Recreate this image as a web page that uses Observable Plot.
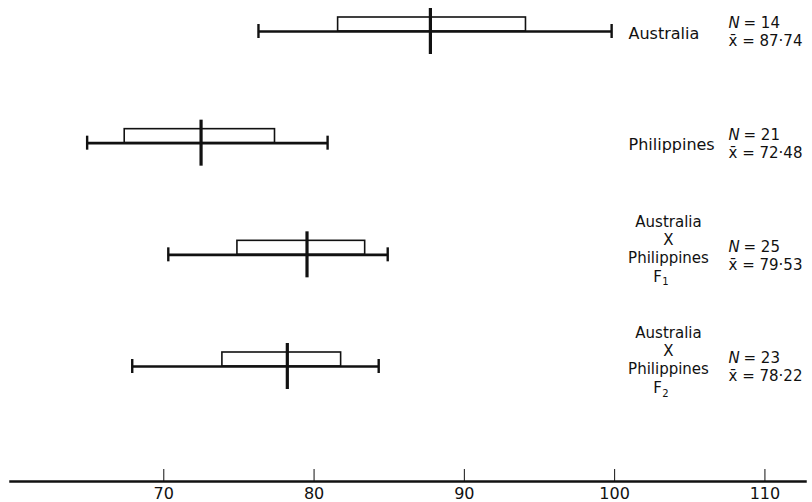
<!DOCTYPE html>
<html>
<head>
<meta charset="utf-8">
<script src="https://cdn.jsdelivr.net/npm/d3@7"></script>
<script src="https://cdn.jsdelivr.net/npm/@observablehq/plot@0.6"></script>
<style>
  html, body { margin: 0; padding: 0; background: #fff; }
  #chart svg { font-family: "DejaVu Sans", sans-serif; }
</style>
</head>
<body>
<div id="chart"></div>
<script>
// Data
const groups   = ["Australia", "Philippines", "Australia X Philippines F1", "Australia X Philippines F2"];
const lows     = [76.3, 64.9, 70.3, 67.9];
const boxLo    = [81.6, 67.4, 74.9, 73.9];
const boxHi    = [94.1, 77.4, 83.4, 81.8];
const highs    = [99.8, 80.9, 84.9, 84.3];
const means    = [87.74, 72.48, 79.53, 78.22];
const ns       = [14, 21, 25, 23];
const meanText = ["87·74", "72·48", "79·53", "78·22"];
const crossLines = ["Australia", "X", "Philippines"];
const xTicks   = [70, 80, 90, 100, 110];

const rows = groups.map((g, i) => ({
  i, group: g, lo: lows[i], q1: boxLo[i], q3: boxHi[i], hi: highs[i],
  mean: means[i], n: ns[i], meanLabel: meanText[i]
}));
const simple = rows.filter(d => d.i < 2);
const crosses = rows.filter(d => d.i >= 2);

const ink = "#111";
const font = 16;
const crossFont = 15;
const statFont = 15;
const lineOffsets = [-33, -15, 3];

const crossMarks = crossLines.map((line, k) =>
  Plot.text(crosses, {y: "i", text: d => line, frameAnchor: "right", textAnchor: "middle", dx: -137, dy: lineOffsets[k], fontSize: crossFont, fill: ink})
);

const chart = Plot.plot({
  width: 812,
  height: 502,
  marginLeft: 10,
  marginRight: 7,
  marginTop: 0,
  marginBottom: 21,
  x: {domain: [59.8, 112.7]},
  y: {domain: [0, 3], range: [31, 366], axis: null},
  marks: [
    Plot.frame({anchor: "bottom", stroke: ink, strokeWidth: 2.5}),
    Plot.axisX(xTicks, {tickSize: -12, tickPadding: 18, fontSize: font, stroke: ink, fill: ink, tickFormat: d => String(d)}),
    // boxes (sit on top of the whisker line)
    Plot.rect(rows, {x1: "q1", x2: "q3", y1: "i", y2: "i", insetTop: -14, insetBottom: 0, fill: "white", stroke: ink, strokeWidth: 1.6}),
    // whiskers
    Plot.ruleY(rows, {y: "i", x1: "lo", x2: "hi", stroke: ink, strokeWidth: 2.6}),
    // end caps
    Plot.ruleX(rows, {x: "lo", y1: "i", y2: "i", insetTop: -7, insetBottom: -7, stroke: ink, strokeWidth: 2.4}),
    Plot.ruleX(rows, {x: "hi", y1: "i", y2: "i", insetTop: -7, insetBottom: -7, stroke: ink, strokeWidth: 2.4}),
    // mean lines
    Plot.ruleX(rows, {x: "mean", y1: "i", y2: "i", insetTop: -23, insetBottom: -23, stroke: ink, strokeWidth: 3.2}),
    // group labels
    Plot.text(simple, {y: "i", text: "group", frameAnchor: "right", textAnchor: "start", dx: -177, dy: 2, fontSize: font, fill: ink}),
    ...crossMarks,
    Plot.text(crosses, {y: "i", text: d => "F", frameAnchor: "right", textAnchor: "middle", dx: -148, dy: 22, fontSize: crossFont, fill: ink}),
    Plot.text(crosses, {y: "i", text: d => String(d.i - 1), frameAnchor: "right", textAnchor: "middle", dx: -140, dy: 27, fontSize: 10, fill: ink}),
    // statistics
    Plot.text(rows, {y: "i", text: d => "N", frameAnchor: "right", textAnchor: "start", dx: -77, dy: -8, fontSize: statFont, fontStyle: "italic", fill: ink}),
    Plot.text(rows, {y: "i", text: d => "= " + d.n, frameAnchor: "right", textAnchor: "start", dx: -62, dy: -8, fontSize: statFont, fill: ink}),
    Plot.text(rows, {y: "i", text: d => "x\u0304 = " + d.meanLabel, frameAnchor: "right", textAnchor: "start", dx: -77, dy: 10, fontSize: statFont, fill: ink})
  ]
});
document.getElementById("chart").appendChild(chart);
</script>
</body>
</html>
